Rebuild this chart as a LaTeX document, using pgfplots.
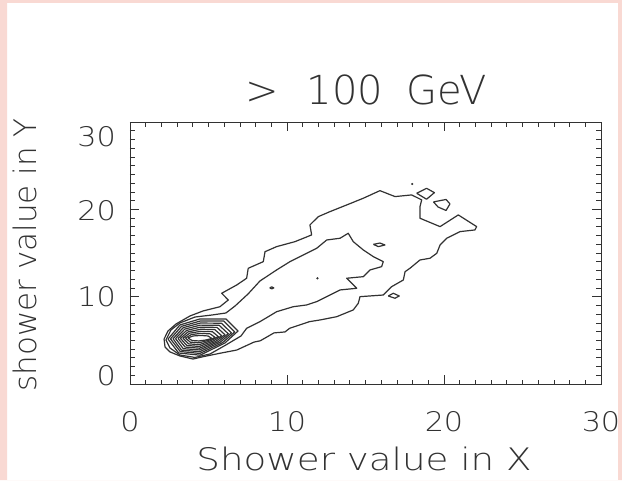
\documentclass[border=0pt]{standalone}
\usepackage{fontspec}
\usepackage{graphicx}
\usepackage{pgfplots}
\pgfplotsset{compat=1.18}
\newfontfamily\idl{DejaVu Sans ExtraLight}
\definecolor{pinkbg}{RGB}{249,217,211}
\definecolor{ink}{RGB}{50,50,50}
\newcommand{\tl}[1]{\scalebox{1.12}[1]{#1}}
\pgfplotsset{cline/.style={ink, line width=1.2pt, line join=round, mark=none}}
\begin{document}
\begin{tikzpicture}[x=1pt,y=1pt]
\useasboundingbox (0,0) rectangle (622,480);
\fill[white] (0,0) rectangle (622,480);
\begin{axis}[
  at={(130pt,96pt)}, anchor=south west,
  width=471pt, height=262pt, scale only axis,
  xmin=0, xmax=30, ymin=0, ymax=30,
  xtick={0,10,20,30}, ytick={0,10,20,30},
  xticklabels={\tl{0},\tl{10},\tl{20},\tl{30}},
  yticklabels={\smash{\raisebox{-1pt}{\tl{0}}},\smash{\raisebox{-10pt}{\tl{10}}},\smash{\raisebox{-11pt}{\tl{20}}},\smash{\raisebox{-24pt}{\tl{30}}}},
  minor tick num=9,
  tick align=inside,
  xtick pos=both, ytick pos=both,
  xticklabel pos=lower, yticklabel pos=left,
  major tick length=9pt, minor tick length=4.5pt,
  axis line style={ink, line width=0.8pt},
  every tick/.style={ink, line width=0.7pt},
  xticklabel style={font=\idl\fontsize{27}{27}\selectfont, text=ink, inner sep=0pt, anchor=center, yshift=-38pt},
  yticklabel style={font=\idl\fontsize{27}{27}\selectfont, text=ink, inner sep=0pt, anchor=east, xshift=-14pt},
]
% outermost contour
\addplot[cline] coordinates {
(2.17,5.15) (2.42,6.07) (2.93,6.87) (3.82,7.79) (4.65,8.36) (5.73,8.85) (6.26,9.62) (5.84,10.39)
(6.80,11.34) (7.43,12.11) (7.53,13.25) (8.49,14.01) (8.60,15.15) (9.34,15.73) (10.51,16.30)
(11.57,17.07) (11.46,18.21) (11.99,19.16) (12.74,19.74) (13.80,20.50) (14.86,21.27) (15.92,22.14)
(16.88,21.46) (17.94,21.65) (18.58,21.08) (18.47,20.31) (18.47,18.98) (19.75,18.02) (20.91,19.36)
(22.08,18.02) (21.97,17.64) (21.02,17.45) (20.17,16.69) (19.75,15.92) (19.54,14.97) (19.11,14.40)
(18.47,14.20) (17.83,13.25) (17.52,12.86) (17.41,11.91) (16.67,11.15) (16.13,10.19) (14.65,10.00)
(14.54,9.24) (14.22,8.48) (13.17,7.71) (12.10,7.33) (11.43,7.14) (10.17,6.38) (9.87,5.96)
(9.17,5.85) (8.30,4.95) (7.90,4.80) (6.80,3.89) (5.73,3.52) (4.67,3.13) (4.01,2.86) (3.18,3.21)
(2.55,3.67) (2.23,4.24) (2.17,5.15)};
% second contour
\addplot[cline] coordinates {
(2.29,5.04) (2.61,6.19) (3.18,6.99) (4.14,7.67) (5.22,7.90) (6.11,8.13) (6.69,8.93) (7.52,10.31)
(8.28,11.80) (9.34,13.06) (10.19,14.01) (11.04,14.78) (11.89,15.54) (12.53,16.49) (13.38,16.69)
(13.90,17.26) (14.22,16.30) (14.86,15.35) (15.50,14.58) (16.13,14.01) (16.03,13.44) (15.29,13.06)
(14.86,12.29) (13.80,12.11) (14.44,10.96) (13.38,10.77) (11.89,9.43) (11.25,9.05) (10.40,8.85)
(9.34,8.28) (8.28,7.14) (7.43,6.38) (7.07,5.50) (6.11,4.47) (5.10,3.44) (4.14,3.04) (3.18,3.32)
(2.55,4.12) (2.29,5.04)};
% core contours
\addplot[cline] coordinates {(2.42,5.15) (3.18,6.76) (4.46,7.45) (6.11,7.45) (6.88,6.07) (6.05,4.70) (4.46,3.30) (3.10,3.55) (2.42,5.15)};
\addplot[cline] coordinates {(2.58,5.17) (3.28,6.60) (4.47,7.21) (5.97,7.21) (6.67,5.96) (5.90,4.74) (4.45,3.50) (3.20,3.72) (2.58,5.17)};
\addplot[cline] coordinates {(2.74,5.18) (3.39,6.45) (4.48,6.98) (5.82,6.96) (6.46,5.85) (5.75,4.79) (4.44,3.70) (3.28,3.88) (2.74,5.18)};
\addplot[cline] coordinates {(2.90,5.20) (3.49,6.29) (4.48,6.74) (5.68,6.72) (6.26,5.75) (5.60,4.83) (4.43,3.90) (3.39,4.05) (2.90,5.20)};
\addplot[cline] coordinates {(3.06,5.21) (3.60,6.13) (4.49,6.51) (5.54,6.48) (6.05,5.64) (5.45,4.87) (4.43,4.10) (3.51,4.23) (3.06,5.21)};
\addplot[cline] coordinates {(3.21,5.23) (3.70,5.97) (4.50,6.27) (5.40,6.23) (5.84,5.53) (5.29,4.91) (4.42,4.30) (3.62,4.41) (3.21,5.23)};
\addplot[cline] coordinates {(3.37,5.24) (3.80,5.82) (4.50,6.03) (5.25,5.99) (5.63,5.42) (5.14,4.96) (4.41,4.50) (3.73,4.60) (3.37,5.24)};
\addplot[cline] coordinates {(3.53,5.26) (3.91,5.66) (4.51,5.80) (5.11,5.74) (5.43,5.32) (4.99,5.00) (4.40,4.72) (3.84,4.79) (3.53,5.26)};
\addplot[cline] coordinates {(3.69,5.27) (4.01,5.50) (4.52,5.56) (4.97,5.50) (5.22,5.21) (4.84,5.04) (4.39,4.93) (3.95,4.98) (3.69,5.27)};
% islands
\addplot[cline] coordinates {(18.26,21.84) (18.89,22.41) (19.39,21.91) (18.89,21.16) (18.26,21.84)};
\addplot[cline] coordinates {(19.33,20.85) (20.13,21.13) (20.38,20.62) (20.13,19.87) (19.62,20.27) (19.33,20.85)};
\addplot[cline] coordinates {(15.50,15.99) (15.92,16.14) (16.24,15.92) (15.82,15.73) (15.50,15.99)};
\addplot[cline] coordinates {(16.45,10.08) (16.77,10.39) (17.15,10.08) (16.88,9.82) (16.45,10.08)};
\addplot[cline] coordinates {(8.90,11.00) (9.03,11.12) (9.16,11.00) (9.03,10.90) (8.90,11.00)};
\addplot[only marks, mark=*, mark size=0.9pt, ink] coordinates {(17.98,22.90) (11.94,12.10)};
\end{axis}
\node[text=ink, inner sep=0pt] at (366,390) {\idl\fontsize{40}{40}\selectfont >\hspace{28pt}100\hspace{24pt}GeV};
\node[text=ink, inner sep=0pt] at (364,21) {\scalebox{1.2}[1]{\idl\fontsize{31}{31}\selectfont Shower value in X}};
\node[text=ink, inner sep=0pt, rotate=90] at (25,225) {\idl\fontsize{31}{31}\selectfont shower value in Y};
\fill[pinkbg, even odd rule] (0,0) rectangle (622,480) (7,0) rectangle (618,477);
\end{tikzpicture}
\end{document}
